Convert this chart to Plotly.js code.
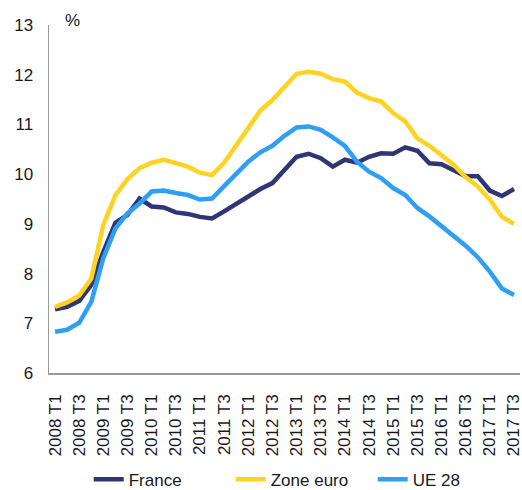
<!DOCTYPE html>
<html>
<head>
<meta charset="utf-8">
<script src="https://cdn.plot.ly/plotly-3.0.1.min.js"></script>
<style>html,body{margin:0;padding:0;background:#fff;}#chart{width:522px;height:490px;}</style>
</head>
<body>
<div id="chart"></div>
<script>
var quarters = ["2008 T1","2008 T2","2008 T3","2008 T4","2009 T1","2009 T2","2009 T3","2009 T4",
  "2010 T1","2010 T2","2010 T3","2010 T4","2011 T1","2011 T2","2011 T3","2011 T4",
  "2012 T1","2012 T2","2012 T3","2012 T4","2013 T1","2013 T2","2013 T3","2013 T4",
  "2014 T1","2014 T2","2014 T3","2014 T4","2015 T1","2015 T2","2015 T3","2015 T4",
  "2016 T1","2016 T2","2016 T3","2016 T4","2017 T1","2017 T2","2017 T3"];
var tickLabels = ["2008 T1","2008 T3","2009 T1","2009 T3","2010 T1","2010 T3","2011 T1","2011 T3",
  "2012 T1","2012 T3","2013 T1","2013 T3","2014 T1","2014 T3","2015 T1","2015 T3",
  "2016 T1","2016 T3","2017 T1","2017 T3"];
var france = [7.28,7.33,7.45,7.77,8.44,9.02,9.18,9.51,9.35,9.33,9.23,9.20,9.14,9.11,9.25,9.40,
  9.56,9.70,9.82,10.08,10.35,10.41,10.32,10.15,10.29,10.23,10.35,10.42,10.41,10.54,10.47,10.22,
  10.20,10.08,9.96,9.96,9.67,9.56,9.70];
var zoneEuro = [7.33,7.42,7.56,7.90,8.98,9.58,9.90,10.12,10.23,10.29,10.22,10.15,10.03,9.98,10.23,10.59,
  10.96,11.28,11.49,11.77,12.02,12.06,12.02,11.91,11.86,11.64,11.53,11.46,11.23,11.06,10.72,10.57,
  10.39,10.19,9.94,9.75,9.49,9.14,9.00];
var ue28 = [6.83,6.87,7.01,7.43,8.31,8.91,9.21,9.41,9.65,9.67,9.62,9.58,9.49,9.51,9.76,10.02,
  10.25,10.44,10.57,10.77,10.94,10.96,10.89,10.74,10.57,10.25,10.05,9.92,9.72,9.58,9.32,9.15,
  8.95,8.77,8.56,8.33,8.04,7.70,7.57];
var seriesNames = ["France","Zone euro","UE 28"];
var colors = ["#2e3675","#ffd320","#2f9ff3"];
var values = [france, zoneEuro, ue28];

var traces = values.map(function(v, i){
  return {x: quarters, y: v, type: "scatter", mode: "lines", name: seriesNames[i],
    line: {color: colors[i], width: 4.5}};
});

var font = {family: "Liberation Sans, Arial, sans-serif", size: 17, color: "#1a1a1a"};
var layout = {
  width: 522, height: 490,
  margin: {l: 49, r: 2, t: 25, b: 117, autoexpand: false},
  paper_bgcolor: "#fff", plot_bgcolor: "#fff",
  font: font,
  showlegend: true,
  legend: {orientation: "h", xref: "container", yref: "container",
    x: 0.578, xanchor: "center", y: 0.021, yanchor: "middle",
    font: {family: font.family, size: 17, color: "#1a1a1a"}, itemwidth: 30,
    entrywidth: 97, traceorder: "normal"},
  xaxis: {type: "category", range: [-0.5, 38.5], showgrid: false, zeroline: false,
    showline: true, linecolor: "#999999", linewidth: 1.5, ticks: "",
    tickmode: "array", tickvals: tickLabels, ticktext: tickLabels, tickangle: -90,
    ticklabelstandoff: 13, tickfont: {family: font.family, size: 17, color: "#1a1a1a"}},
  yaxis: {range: [6, 13], dtick: 1, showgrid: false, zeroline: false,
    showline: true, linecolor: "#999999", linewidth: 1.5, ticks: "",
    ticklabelstandoff: 11, tickfont: {family: font.family, size: 17, color: "#1a1a1a"}},
  annotations: [{text: "%", xref: "paper", yref: "paper", x: 0.049, y: 1.014,
    xanchor: "center", yanchor: "middle", showarrow: false,
    font: {family: font.family, size: 17, color: "#1a1a1a"}}]
};
Plotly.newPlot("chart", traces, layout, {displayModeBar: false, staticPlot: true});
</script>
</body>
</html>
